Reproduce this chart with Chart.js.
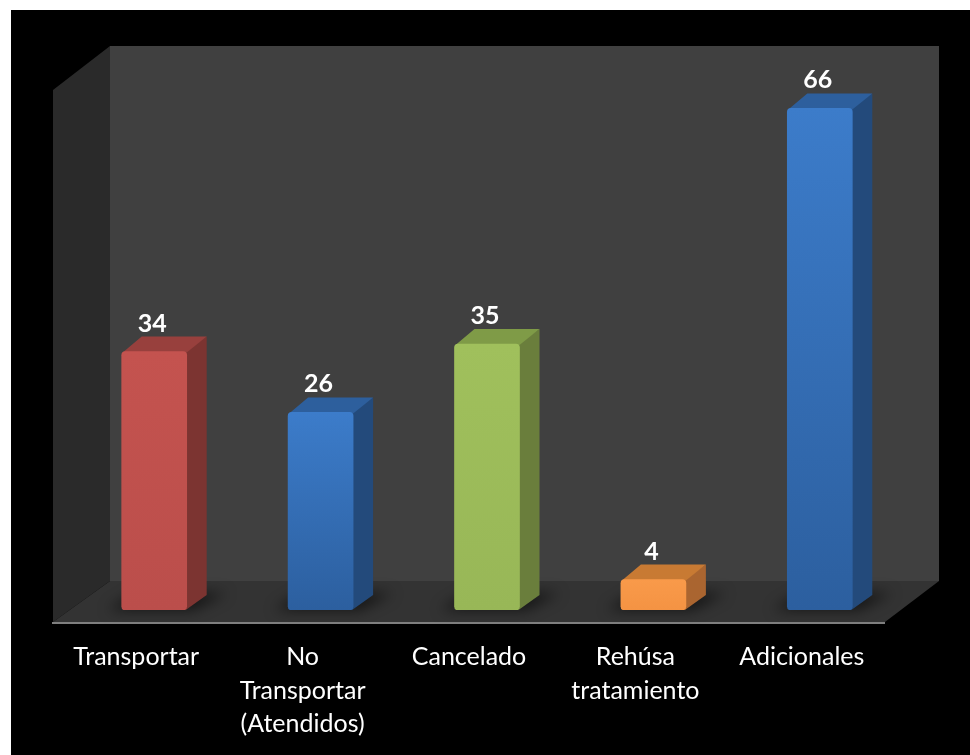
<!DOCTYPE html>
<html>
<head>
<meta charset="utf-8">
<script src="https://cdn.jsdelivr.net/npm/chart.js@4"></script>
<style>
  html, body { margin: 0; background: #fff; }
  #box { position: absolute; left: 11px; top: 10px; width: 959px; height: 745px; background: #000; }
</style>
</head>
<body>
<div id="box"><canvas id="myChart" width="959" height="745"></canvas></div>
<script>
const categories = [
  'Transportar',
  ['No', 'Transportar', '(Atendidos)'],
  'Cancelado',
  ['Rehúsa', 'tratamiento'],
  'Adicionales'
]
const values = [34, 26, 35, 4, 66]

// front top, front bottom, side, top face
const frontTop = ['#c4534f', '#3c7cca', '#a0c05c', '#f99a4a', '#3c7cca']
const frontBottom = ['#bb4e4b', '#2c5f9f', '#98b757', '#f49343', '#2c5f9f']
const sideColors = ['#7c3431', '#234a7b', '#6a7e3c', '#aa6530', '#234a7b']
const topColors = ['#98403d', '#2d5f9d', '#7f9b47', '#c87a33', '#2d5f9d']

const barDepthX = 20
const barDepthY = 15
const barShiftX = 18
const barShiftY = 12

function face(ctx, pts, color) {
  ctx.fillStyle = color
  ctx.beginPath()
  pts.forEach((p, i) => i ? ctx.lineTo(p[0], p[1]) : ctx.moveTo(p[0], p[1]))
  ctx.closePath()
  ctx.fill()
}

const box3d = {
  id: 'box3d',
  beforeDatasetsDraw(chart) {
    const { ctx, chartArea: a } = chart
    const backL = a.left + 57, backR = a.right + 54
    const backT = a.top - 44, backB = a.bottom - 41

    // walls and floor
    face(ctx, [[backL, backT], [backR, backT], [backR, backB], [backL, backB]], '#404040')
    face(ctx, [[a.left, a.top], [backL, backT], [backL, backB], [a.left, a.bottom]], '#2a2a2a')
    face(ctx, [[a.left, a.bottom], [a.right, a.bottom], [backR, backB], [backL, backB]], '#333333')
    ctx.fillStyle = '#7f7f7f'
    ctx.fillRect(a.left - 1, a.bottom, a.right - a.left + 1, 2)

    const bars = chart.getDatasetMeta(0).data

    // soft shadow on the floor
    ctx.save()
    ctx.filter = 'blur(7px)'
    bars.forEach(bar => {
      const left = bar.x + barShiftX - bar.width / 2
      const base = bar.base - barShiftY
      face(ctx, [[left - 14, base], [left + bar.width + 6, base],
        [left + bar.width + barDepthX + 20, base - barDepthY - 2], [left + 14, base - barDepthY - 2]], 'rgba(0,0,0,0.6)')
    })
    ctx.restore()

    // side and top faces of the bars
    bars.forEach((bar, i) => {
      const l = bar.x + barShiftX - bar.width / 2
      const r = l + bar.width
      const t = bar.y - barShiftY
      const b = bar.base - barShiftY
      face(ctx, [[r - 1, t], [r + barDepthX, t - barDepthY], [r + barDepthX, b - barDepthY], [r - 1, b]], sideColors[i])
      face(ctx, [[l + 1, t + 1], [l + barDepthX, t - barDepthY], [r + barDepthX, t - barDepthY], [r, t + 1]], topColors[i])
    })

    ctx.save()
    ctx.translate(barShiftX, -barShiftY)
  },
  afterDatasetsDraw(chart) {
    const { ctx } = chart
    ctx.restore()

    ctx.fillStyle = '#fff'
    ctx.font = 'bold 25px Lato'
    ctx.textAlign = 'center'
    ctx.textBaseline = 'middle'
    chart.getDatasetMeta(0).data.forEach((bar, i) => {
      ctx.fillText(values[i], bar.x + barShiftX - 2, bar.y - barShiftY - 28)
    })
  }
}

const chart = document.getElementById('myChart')

const data = {
  labels: categories,
  datasets: [{
    data: values,
    barThickness: 65,
    borderRadius: 4,
    borderSkipped: false,
    backgroundColor(c) {
      const area = c.chart.chartArea
      if (!area || c.dataIndex === undefined) return frontTop[0]
      const top = c.chart.scales.y.getPixelForValue(values[c.dataIndex])
      const g = c.chart.ctx.createLinearGradient(0, top, 0, area.bottom)
      g.addColorStop(0, frontTop[c.dataIndex])
      g.addColorStop(1, frontBottom[c.dataIndex])
      return g
    }
  }]
}

const config = {
  type: 'bar',
  data: data,
  plugins: [box3d],
  options: {
    responsive: false,
    animation: false,
    events: [],
    layout: { padding: { left: 42, right: 85, top: 80, bottom: 0 } },
    plugins: { legend: { display: false }, tooltip: { enabled: false } },
    scales: {
      x: {
        grid: { display: false, drawTicks: false },
        border: { display: false },
        afterFit(scale) { scale.height = 133 },
        ticks: {
          color: '#fff',
          autoSkip: false,
          maxRotation: 0,
          padding: 18,
          font: { family: 'Lato', size: 25, lineHeight: 1.35 }
        }
      },
      y: { display: false, min: 0, max: 70 }
    }
  }
}

new Chart(chart, config)
</script>
</body>
</html>
